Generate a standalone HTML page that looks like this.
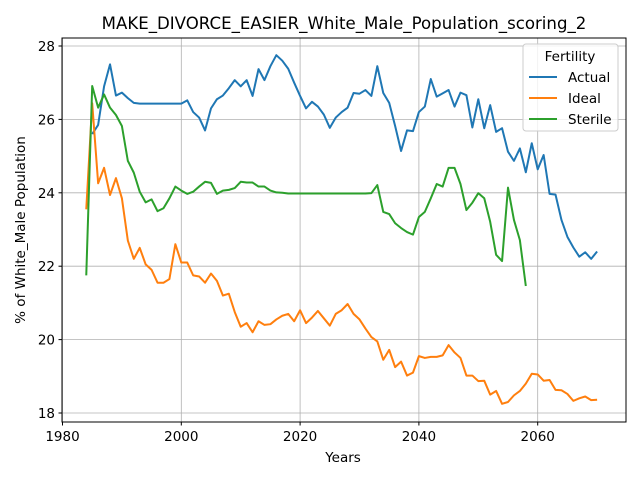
<!DOCTYPE html>
<html><head><meta charset="utf-8"><style>
body{margin:0;background:#fff;font-family:"Liberation Sans","DejaVu Sans",sans-serif}
svg text{font-family:"DejaVu Sans","Liberation Sans",sans-serif}
</style></head><body>
<svg id="chart" width="640" height="480" xmlns="http://www.w3.org/2000/svg">
<rect width="640" height="480" fill="#fff"/>
<g id="grid"></g>
<g id="series"></g>
<rect x="62" y="38" width="564" height="384" fill="none" stroke="#000" stroke-width="1"/>
<g id="ticks"></g>
<text x="344" y="29" text-anchor="middle" font-size="16.6">MAKE_DIVORCE_EASIER_White_Male_Population_scoring_2</text>
<text x="343" y="462" text-anchor="middle" font-size="13.5">Years</text>
<text transform="translate(25,230) rotate(-90)" text-anchor="middle" font-size="13.5">% of White_Male Population</text>
<g>
<rect x="523" y="44" width="95" height="87" rx="3" fill="#fff" fill-opacity="0.8" stroke="#ccc"/>
<text x="570" y="61" text-anchor="middle" font-size="13.5">Fertility</text>
<g><line x1="529" y1="77" x2="557" y2="77" stroke="#1f77b4" stroke-width="2"/><text x="568" y="82" font-size="13.5">Actual</text></g>
<g><line x1="529" y1="98" x2="557" y2="98" stroke="#ff7f0e" stroke-width="2"/><text x="568" y="103" font-size="13.5">Ideal</text></g>
<g><line x1="529" y1="119" x2="557" y2="119" stroke="#2ca02c" stroke-width="2"/><text x="568" y="124" font-size="13.5">Sterile</text></g>
</g>
</svg>
<script>
const xTicks=[1980,2000,2020,2040,2060];
const yTicks=[18,20,22,24,26,28];
const actualStart=1985;
const actual=[25.6,25.85,26.9,27.5,26.65,26.73,26.58,26.45,26.43,26.43,26.43,26.43,26.43,26.43,26.43,26.43,26.52,26.2,26.05,25.7,26.3,26.55,26.65,26.85,27.07,26.9,27.07,26.64,27.37,27.07,27.45,27.75,27.6,27.38,27.0,26.64,26.3,26.48,26.35,26.13,25.77,26.05,26.2,26.32,26.72,26.7,26.8,26.64,27.45,26.72,26.45,25.82,25.14,25.7,25.68,26.2,26.35,27.1,26.62,26.71,26.8,26.35,26.73,26.66,25.78,26.55,25.76,26.39,25.66,25.76,25.12,24.87,25.21,24.56,25.35,24.64,25.03,23.97,23.95,23.26,22.8,22.51,22.26,22.38,22.2,22.4];
const idealStart=1984;
const ideal=[23.55,26.44,24.26,24.68,23.94,24.4,23.85,22.7,22.2,22.5,22.05,21.9,21.55,21.55,21.65,22.6,22.1,22.1,21.75,21.72,21.55,21.8,21.6,21.2,21.25,20.75,20.35,20.45,20.2,20.5,20.4,20.42,20.55,20.65,20.7,20.5,20.8,20.45,20.6,20.78,20.58,20.38,20.7,20.8,20.97,20.7,20.55,20.3,20.07,19.95,19.45,19.72,19.25,19.4,19.02,19.1,19.55,19.5,19.53,19.53,19.57,19.85,19.65,19.5,19.02,19.02,18.87,18.88,18.5,18.6,18.25,18.3,18.48,18.6,18.8,19.07,19.05,18.88,18.9,18.63,18.62,18.52,18.33,18.4,18.45,18.35,18.36];
const sterileStart=1984;
const sterile=[21.75,26.91,26.32,26.68,26.32,26.12,25.82,24.87,24.55,24.03,23.74,23.82,23.5,23.58,23.85,24.17,24.06,23.97,24.03,24.17,24.3,24.27,23.97,24.06,24.08,24.13,24.3,24.28,24.28,24.17,24.17,24.06,24.01,24.0,23.98,23.98,23.98,23.98,23.98,23.98,23.98,23.98,23.98,23.98,23.98,23.98,23.98,23.98,23.99,24.21,23.48,23.42,23.17,23.04,22.93,22.86,23.34,23.48,23.85,24.24,24.17,24.68,24.68,24.24,23.53,23.73,23.99,23.85,23.21,22.31,22.14,24.14,23.26,22.71,21.46];
const X=yr=>62.5+(yr-1980)*5.94;
const Y=v=>46+(28-v)*36.7;
const NS='http://www.w3.org/2000/svg';
const grid=document.getElementById('grid'),ticks=document.getElementById('ticks'),ser=document.getElementById('series');
function mk(tag,attrs,parent){const e=document.createElementNS(NS,tag);for(const k in attrs)e.setAttribute(k,attrs[k]);parent.appendChild(e);return e;}
xTicks.forEach(t=>{const x=X(t);
 const g=mk('line',{x1:x,x2:x,y1:38,y2:422,stroke:'#b0b0b0','stroke-width':0.8},grid);
 
 
 mk('line',{x1:x,x2:x,y1:422,y2:425.5,stroke:'#000'},ticks);
 const tx=mk('text',{x:x,y:441,'text-anchor':'middle','font-size':13.5},ticks);tx.textContent=t;
 
 });
yTicks.forEach(t=>{const y=Y(t);
 const g=mk('line',{x1:62,x2:626,y1:y,y2:y,stroke:'#b0b0b0','stroke-width':0.8},grid);
 
 
 mk('line',{x1:58.5,x2:62,y1:y,y2:y,stroke:'#000'},ticks);
 const tx=mk('text',{x:55,y:y+5,'text-anchor':'end','font-size':13.5},ticks);tx.textContent=t;
 
 });
function line(arr,start,color,name){
 const p=mk('polyline',{points:arr.map((v,i)=>X(start+i)+','+Y(v)).join(' '),fill:'none',stroke:color,'stroke-width':2,'stroke-linejoin':'round'},ser);
 
 }
line(actual,actualStart,'#1f77b4','actual-line');
line(ideal,idealStart,'#ff7f0e','ideal-line');
line(sterile,sterileStart,'#2ca02c','sterile-line');
</script>
</body></html>
